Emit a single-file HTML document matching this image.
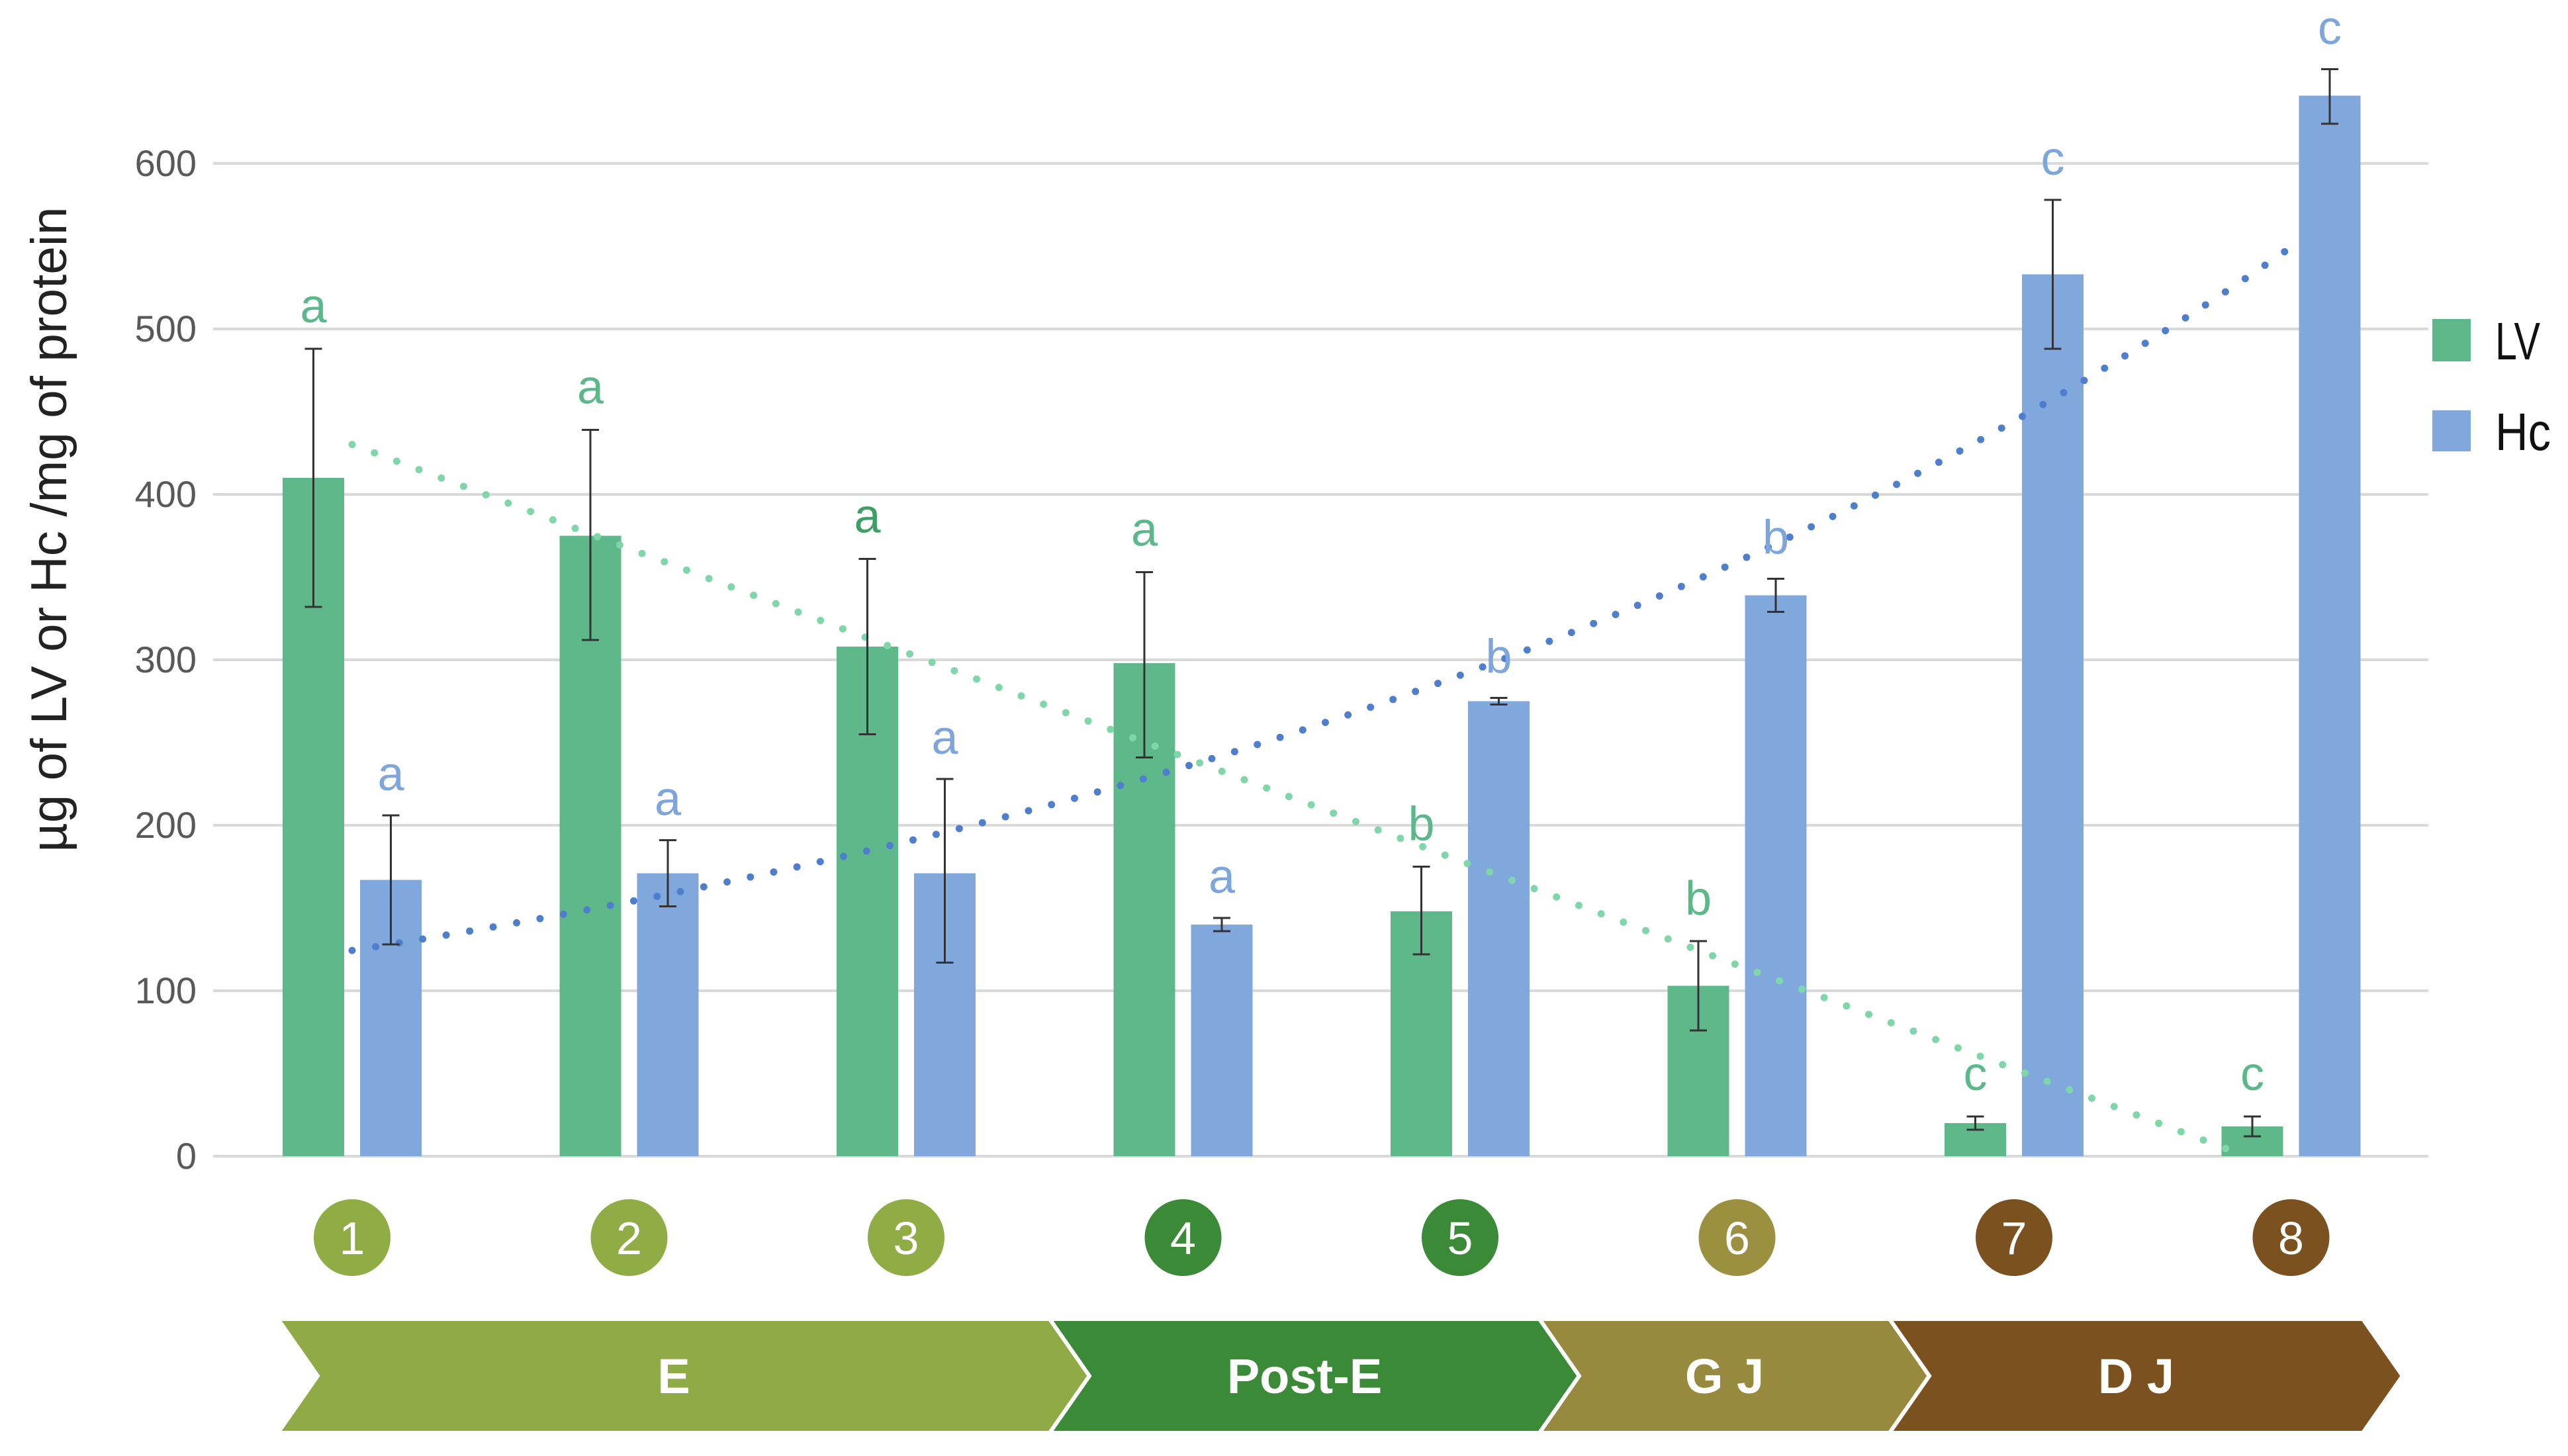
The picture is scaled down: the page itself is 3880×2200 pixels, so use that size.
<!DOCTYPE html>
<html><head><meta charset="utf-8"><style>
html,body{margin:0;padding:0;background:#fff;}
svg{display:block;}
text{font-family:"Liberation Sans Narrow","Liberation Sans",sans-serif;}
</style></head><body>
<svg id="chart" width="3880" height="2200" viewBox="0 0 3880 2200" xmlns="http://www.w3.org/2000/svg">
<g id="grid"></g>
<g id="yticks"></g>
<text transform="translate(100,800) rotate(-90)" text-anchor="middle" font-size="76" fill="#222" textLength="975" lengthAdjust="spacingAndGlyphs">µg of LV or Hc /mg of protein</text>
<g id="bars"></g>
<g id="trends"></g>
<g id="errs"></g>
<g id="letters"></g>
<g id="stages"></g>
<g id="bands"></g>
<g>
 <rect x="3675" y="482" width="58" height="64" fill="#5fb88a"/>
 <text x="3770" y="543" font-size="80" fill="#111" textLength="68" lengthAdjust="spacingAndGlyphs">LV</text>
 <rect x="3675" y="620" width="58" height="62" fill="#80a8dc"/>
 <text x="3770" y="680" font-size="80" fill="#111" textLength="84" lengthAdjust="spacingAndGlyphs">Hc</text>
</g>
</svg>
<script>
const categories = ["1","2","3","4","5","6","7","8"];
const lvValues = [410, 375, 308, 298, 148, 103, 20, 18];
const lvErrHigh = [488, 439, 361, 353, 175, 130, 24, 24];
const lvErrLow = [332, 312, 255, 241, 122, 76, 16, 12];
const hcValues = [167, 171, 171, 140, 275, 339, 533, 641];
const hcErrHigh = [206, 191, 228, 144, 277, 349, 578, 657];
const hcErrLow = [128, 151, 117, 136, 273, 329, 488, 624];
const lvLetters = ["a","a","a","a","b","b","c","c"];
const hcLetters = ["a","a","a","a","b","b","c","c"];
const yTicks = [0, 100, 200, 300, 400, 500, 600];
const stageColors = ["#8fac45","#8fac45","#8fac45","#3a8a37","#3a8a37","#9a9040","#7c5120","#7c5120"];
const phaseLabels = ["E","Post-E","G J","D J"];
const phaseColors = ["#8fab45","#3a8a37","#978a3e","#7c5120"];

const NS = "http://www.w3.org/2000/svg";
const X0 = 322, X1 = 3669, Y0 = 1747, PX = 2.5;
const y = v => Y0 - v * PX;
const gx = i => 532 + i * 418.5;
const BW = 93, GAP = 24;
function mk(tag, attrs, parent, txt){
  const e = document.createElementNS(NS, tag);
  for (const k in attrs) e.setAttribute(k, attrs[k]);
  if (txt !== undefined) e.textContent = txt;
  parent.appendChild(e); return e;
}
const G = id => document.getElementById(id);

yTicks.forEach(t => {
  const l = mk("line", {x1:X0, x2:X1, y1:y(t), y2:y(t), stroke:"#d9d9d9", "stroke-width":4}, G("grid"));
  
  
  const tx = mk("text", {x:297, y:y(t)+19, "text-anchor":"end", "font-size":56, fill:"#595959", "font-family":"Liberation Sans, sans-serif"}, G("yticks"), String(t));
  
  
});

categories.forEach((c, i) => {
  const cx = gx(i);
  const lx = cx - GAP/2 - BW, hx = cx + GAP/2;
  const b1 = mk("rect", {x:lx, y:y(lvValues[i]), width:BW, height:lvValues[i]*PX, fill:"#5fb88a"}, G("bars"));
  
  
  const b2 = mk("rect", {x:hx, y:y(hcValues[i]), width:BW, height:hcValues[i]*PX, fill:"#80a8dc"}, G("bars"));
  
  
  [[lx+BW/2, lvErrHigh[i], lvErrLow[i], 'lv'], [hx+BW/2, hcErrHigh[i], hcErrLow[i], 'hc']].forEach(([ex, hi, lo, s]) => {
    const g = mk("g", {stroke:"#333", "stroke-width":3}, G("errs"));
    
    
    mk("line", {x1:ex, x2:ex, y1:y(hi), y2:y(lo)}, g);
    mk("line", {x1:ex-13, x2:ex+13, y1:y(hi), y2:y(hi)}, g);
    mk("line", {x1:ex-13, x2:ex+13, y1:y(lo), y2:y(lo)}, g);
  });
  const t1 = mk("text", {x:lx+BW/2, y:y(lvErrHigh[i])-40, "text-anchor":"middle", "font-size":72, fill: i===2 ? "#3f9e63" : "#5bb88a"}, G("letters"), lvLetters[i]);
  
  
  const t2 = mk("text", {x:hx+BW/2, y:y(hcErrHigh[i])-38, "text-anchor":"middle", "font-size":72, fill:"#7ea6dc"}, G("letters"), hcLetters[i]);
  
  
  const circ = mk("circle", {cx:cx, cy:1870, r:58, fill:stageColors[i]}, G("stages"));
  
  
  const ct = mk("text", {x:cx, y:1895, "text-anchor":"middle", "font-size":70, fill:"#fff", "font-family":"Liberation Sans, sans-serif"}, G("stages"), c);
  
  
});

function fit(xs, ys){
  const n = xs.length, mx = xs.reduce((a,b)=>a+b)/n, my = ys.reduce((a,b)=>a+b)/n;
  let sxy=0, sxx=0; xs.forEach((x,k)=>{sxy+=(x-mx)*(ys[k]-my); sxx+=(x-mx)**2;});
  const s = sxy/sxx; return [s, my - s*mx];
}
const idx = categories.map((c,i)=>i);
const [ls, li] = fit(idx, lvValues);
const [hs, hi0] = fit(idx, hcValues.map(v=>Math.log(v)));
let lvPts = [], hcPts = [];
for (let t = 0; t <= 7.0001; t += 0.05){
  const lv = ls*t + li;
  if (lv >= 0) lvPts.push(gx(t).toFixed(1)+","+y(lv).toFixed(1));
  hcPts.push(gx(t).toFixed(1)+","+y(Math.exp(hs*t+hi0)).toFixed(1));
}
const tl = mk("polyline", {points:lvPts.join(" "), fill:"none", stroke:"#7fd6a8", "stroke-width":11, "stroke-linecap":"round", "stroke-dasharray":"0 36"}, G("trends"));


const th = mk("polyline", {points:hcPts.join(" "), fill:"none", stroke:"#4f7fcc", "stroke-width":11, "stroke-linecap":"round", "stroke-dasharray":"0 36"}, G("trends"));



const bounds = [[420,1586],[1586,2326],[2326,2855],[2855,3570]];
const T = 1993, B = 2165, M = (T+B)/2, D = 60;
bounds.forEach(([a, b], k) => {
  const pts = [[a,T],[b,T],[b+D,M],[b,B],[a,B],[a+D,M]].map(p=>p.join(",")).join(" ");
  const p = mk("polygon", {points:pts, fill:phaseColors[k], stroke:"#fff", "stroke-width":6}, G("bands"));
  
  
  const tx = mk("text", {x:(a+b)/2 + D/2 - 15, y:M+26, "text-anchor":"middle", "font-size":74, "font-weight":"bold", fill:"#fff"}, G("bands"), phaseLabels[k]);
  
  
});
</script>
</body></html>
